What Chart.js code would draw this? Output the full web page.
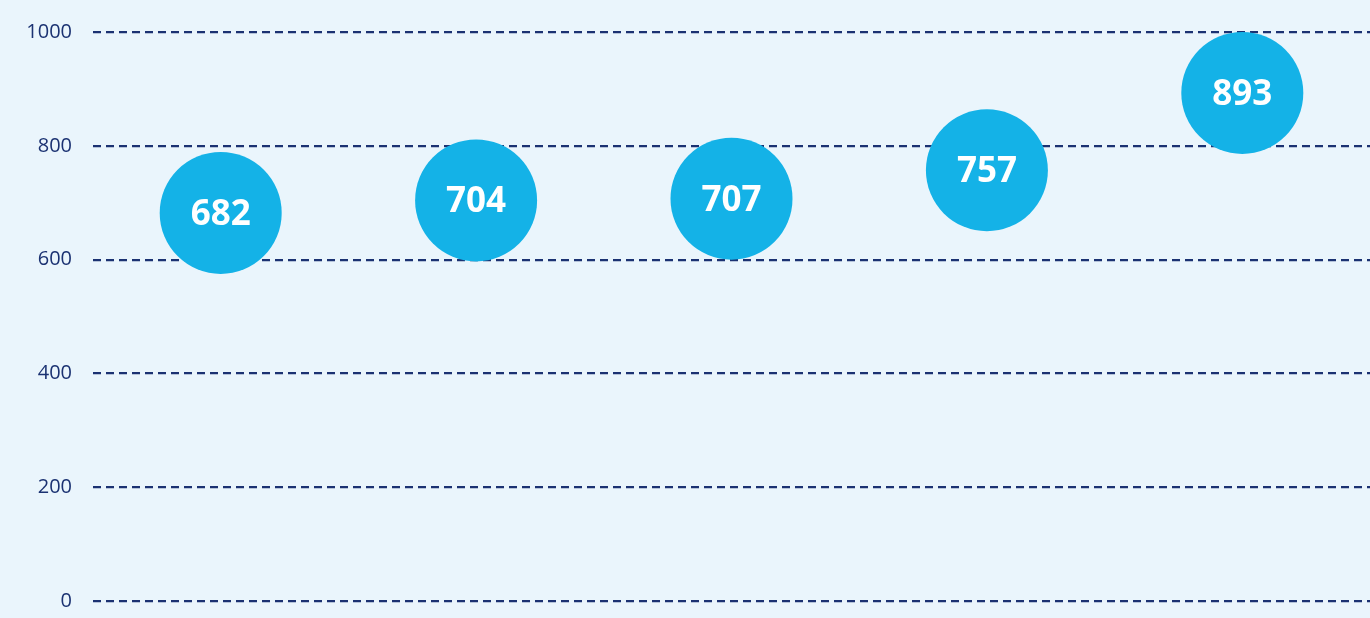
<!DOCTYPE html>
<html>
<head>
<meta charset="utf-8">
<style>
html, body { margin:0; padding:0; background:#eaf5fc; }
#wrap { width:1370px; height:618px; }
</style>
</head>
<body>
<div id="wrap"><canvas id="chart"></canvas></div>
<script src="https://cdn.jsdelivr.net/npm/chart.js@4/dist/chart.umd.min.js"></script>
<script>
var categories = ['1', '2', '3', '4', '5'];
var values = [682, 704, 707, 757, 893];
var yTicks = [0, 200, 400, 600, 800, 1000];

var navy = '#1b3272';
var cyan = '#14b2e7';

// white number inside each bubble
var bubbleLabels = {
	id: 'bubbleLabels',
	afterDatasetsDraw: function(chart){
		var ctx = chart.ctx;
		var meta = chart.getDatasetMeta(0);
		ctx.save();
		ctx.fillStyle = '#ffffff';
		ctx.font = 'bold 35px "Open Sans", sans-serif';
		ctx.textAlign = 'center';
		ctx.textBaseline = 'middle';
		meta.data.forEach(function(pt, i){
			ctx.fillText(String(values[i]), pt.x, pt.y + 2);
		});
		ctx.restore();
	}
};

var ctx = document.getElementById('chart').getContext('2d');
new Chart(ctx, {
	type: 'line',
	data: {
		labels: categories,
		datasets: [{
			data: values,
			showLine: false,
			pointRadius: 61,
			pointHoverRadius: 61,
			pointBackgroundColor: cyan,
			pointBorderWidth: 0,
			borderColor: cyan,
			clip: false
		}]
	},
	options: {
		responsive: true,
		maintainAspectRatio: false,
		animation: false,
		layout: { autoPadding: false, padding: { top: 32, bottom: 17, left: 0, right: 0 } },
		plugins: { legend: { display: false }, tooltip: { enabled: false } },
		scales: {
			x: { display: false, offset: true },
			y: {
				min: 0,
				max: 1000,
				afterBuildTicks: function(s){ s.ticks = yTicks.map(function(v){ return { value: v }; }); },
				afterFit: function(s){ s.width = 93; s.paddingTop = 0; s.paddingBottom = 0; },
				border: { display: false, dash: [8, 5] },
				grid: { color: navy, lineWidth: 2.2, drawTicks: false },
				ticks: {
					color: navy,
					padding: 21,
					font: { family: '"Open Sans", sans-serif', size: 20 },
					callback: function(v){ return String(v); }
				}
			}
		}
	},
	plugins: [bubbleLabels]
});
</script>
</body>
</html>
